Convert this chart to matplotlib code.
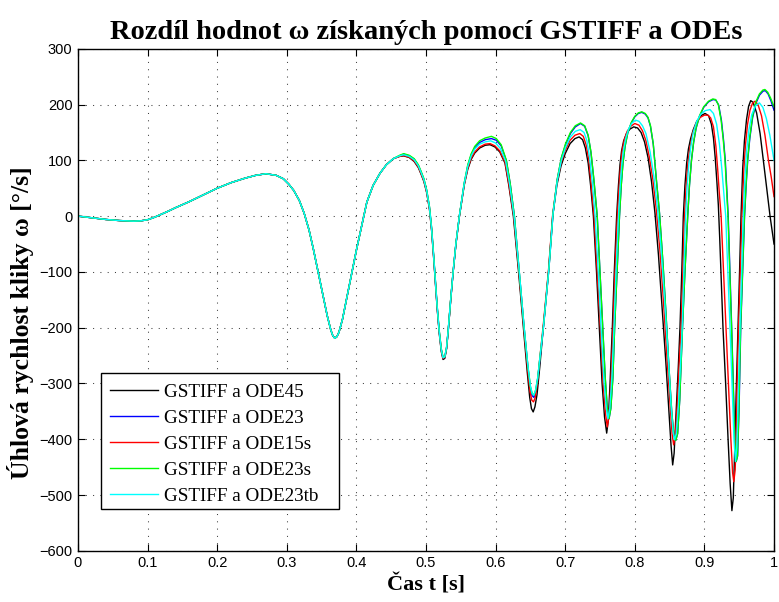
import matplotlib
matplotlib.use("Agg")
import matplotlib.pyplot as plt
from matplotlib.patches import Rectangle

# shared start of all five curves
t_common = [0.00, 0.02, 0.04, 0.06, 0.08, 0.09, 0.10, 0.11, 0.12, 0.13, 0.14, 0.16, 0.18,
            0.20, 0.22, 0.24, 0.255, 0.27, 0.285, 0.295, 0.303, 0.31, 0.318, 0.325, 0.332,
            0.338, 0.345, 0.3525, 0.358, 0.363, 0.366, 0.369, 0.372, 0.375, 0.38, 0.386,
            0.393, 0.40, 0.408, 0.415, 0.424, 0.434, 0.443, 0.453]
w_common = [0, -3, -6, -8, -9, -8.5, -6.5, -2, 3.5, 9, 15, 26, 38,
            50, 60, 68, 73, 76, 73, 67, 57, 46, 28, 5, -25,
            -58, -100, -145, -178, -203, -214, -219, -216, -208, -185, -148,
            -105, -61, -15, 25, 55, 77, 92, 103]

t_ode45 = [0.462, 0.468, 0.476, 0.483, 0.489, 0.493, 0.497, 0.501, 0.505, 0.508, 0.511,
           0.5135, 0.516, 0.519, 0.522, 0.5245, 0.527, 0.5295, 0.532, 0.5355, 0.539,
           0.543, 0.548, 0.555, 0.56, 0.565, 0.57, 0.577, 0.585, 0.592, 0.599, 0.606, 0.6135,
           0.619, 0.6255, 0.633, 0.640, 0.6455, 0.649, 0.6515, 0.654, 0.6565, 0.6595,
           0.6635, 0.6685, 0.676, 0.682, 0.688, 0.694, 0.700, 0.707, 0.714, 0.72, 0.725,
           0.729, 0.733, 0.7365, 0.7405, 0.745, 0.749, 0.753, 0.7565, 0.7596, 0.762,
           0.7644, 0.7677, 0.7705, 0.7739, 0.7765, 0.7787, 0.781, 0.784, 0.788, 0.793,
           0.7985, 0.804, 0.809, 0.814, 0.819, 0.824, 0.829, 0.834, 0.839, 0.8445, 0.849,
           0.852, 0.8544, 0.8565, 0.859, 0.8625, 0.8649, 0.8675, 0.8697, 0.872, 0.8745,
           0.877, 0.88, 0.884, 0.889, 0.895, 0.901, 0.906, 0.91, 0.913, 0.9155, 0.918,
           0.920, 0.922, 0.9267, 0.9305, 0.934, 0.937, 0.9395, 0.9415, 0.9435, 0.946,
           0.9483, 0.9505, 0.9526, 0.955, 0.9575, 0.9605, 0.9635, 0.9665, 0.970, 0.975,
           0.98, 0.9847, 0.9895, 0.9943, 1.0]
w_ode45 = [107, 108, 105, 98, 87, 75, 62, 42, 12, -25, -75,
           -120, -165, -210, -243, -257, -255, -238, -205, -150, -100,
           -50, 0, 56, 84, 102, 113, 122, 127, 128, 124, 115, 95,
           55, 0, -100, -200, -280, -325, -345, -351, -342, -320,
           -270, -200, -100, 0, 55, 90, 112, 130, 139, 142, 137,
           122, 95, 55, 0, -100, -200, -300, -360, -389, -365,
           -300, -200, -100, 0, 55, 92, 117, 135, 148, 156,
           160, 158, 150, 133, 105, 62, 5, -70, -160, -260, -350,
           -410, -446, -425, -360, -270, -200, -100, 0, 55, 95,
           120, 138, 155, 170, 180, 184, 180, 165, 140, 105, 60,
           20, -40, -200, -300, -400, -480, -528, -505, -420, -300,
           -200, -100, 0, 85, 135, 173, 197, 207, 204, 185,
           148, 100, 50, 0, -50]

t_ode15s = [0.462, 0.468, 0.476, 0.483, 0.489, 0.493, 0.497, 0.501, 0.505, 0.508, 0.511,
            0.5135, 0.516, 0.519, 0.522, 0.5245, 0.527, 0.5295, 0.532, 0.5355, 0.539,
            0.543, 0.548, 0.555, 0.56, 0.565, 0.57, 0.577, 0.585, 0.592, 0.599, 0.606, 0.6135,
            0.619, 0.626, 0.6335, 0.6405, 0.646, 0.6495, 0.652, 0.6545, 0.657, 0.66,
            0.6635, 0.6685, 0.676, 0.682, 0.688, 0.694, 0.700, 0.707, 0.714, 0.721, 0.726,
            0.730, 0.734, 0.7375, 0.7415, 0.746, 0.7505, 0.7545, 0.758, 0.7605, 0.763,
            0.7655, 0.7688, 0.7715, 0.7749, 0.7775, 0.7797, 0.782, 0.785, 0.789, 0.794,
            0.800, 0.806, 0.811, 0.816, 0.821, 0.826, 0.831, 0.836, 0.841, 0.846, 0.851,
            0.8535, 0.8558, 0.858, 0.861, 0.8635, 0.8665, 0.869, 0.871, 0.8735, 0.876,
            0.879, 0.883, 0.888, 0.894, 0.9, 0.905, 0.909, 0.913, 0.9165, 0.919, 0.9215,
            0.924, 0.9275, 0.931, 0.9345, 0.938, 0.9405, 0.9422, 0.9442, 0.9455, 0.947,
            0.949, 0.9515, 0.954, 0.9565, 0.959, 0.962, 0.9655, 0.969, 0.9727, 0.977,
            0.982, 0.987, 0.992, 0.996, 1.0]
w_ode15s = [107, 108.5, 105.5, 99, 88, 76, 63, 43, 13, -24, -74,
            -119, -164, -208, -241, -255, -253, -237, -204, -150, -100,
            -50, 0, 57, 86, 104, 115, 124, 129, 130, 126, 117, 97,
            58, 0, -100, -200, -275, -315, -330, -333, -325, -300,
            -255, -195, -97, 3, 60, 95, 118, 136, 145, 148, 143,
            128, 100, 55, 0, -100, -200, -300, -355, -378, -358,
            -300, -200, -100, 0, 55, 92, 118, 137, 152, 161,
            166, 163, 153, 135, 105, 65, 10, -60, -150, -250, -345,
            -390, -410, -395, -340, -270, -200, -100, -10, 50, 92,
            122, 148, 166, 177, 181, 181, 176, 160, 125, 85, 40,
            0, -100, -200, -300, -400, -460, -476, -455, -400, -300,
            -200, -100, 0, 80, 128, 165, 190, 202, 206, 200,
            180, 145, 100, 70, 35]

t_ode23tb = [0.462, 0.468, 0.476, 0.483, 0.489, 0.493, 0.497, 0.501, 0.505, 0.508, 0.511,
             0.5135, 0.516, 0.519, 0.522, 0.5245, 0.527, 0.5295, 0.532, 0.5355, 0.539,
             0.543, 0.548, 0.555, 0.56, 0.565, 0.57, 0.577, 0.585, 0.593, 0.6, 0.607, 0.6145,
             0.62, 0.6265, 0.634, 0.641, 0.6465, 0.65, 0.6525, 0.655, 0.6575, 0.6605,
             0.664, 0.669, 0.6765, 0.6825, 0.6885, 0.6945, 0.7005, 0.7075, 0.7145, 0.7215,
             0.727, 0.731, 0.735, 0.739, 0.743, 0.7475, 0.7515, 0.7555, 0.759, 0.7615,
             0.764, 0.767, 0.770, 0.773, 0.7765, 0.779, 0.781, 0.7835, 0.787, 0.791, 0.796,
             0.801, 0.806, 0.811, 0.816, 0.822, 0.8275, 0.8325, 0.8375, 0.8425, 0.8475,
             0.852, 0.8548, 0.857, 0.8595, 0.8625, 0.8655, 0.868, 0.8705, 0.8725, 0.875,
             0.8775, 0.8805, 0.884, 0.889, 0.895, 0.901, 0.908, 0.913, 0.9175, 0.9215,
             0.925, 0.928, 0.9306, 0.9337, 0.9368, 0.9397, 0.9425, 0.9445, 0.9465, 0.9485,
             0.9511, 0.9535, 0.9555, 0.958, 0.9605, 0.964, 0.968, 0.9735, 0.979, 0.984,
             0.989, 0.994, 1.0]
w_ode23tb = [108, 110, 107, 101, 90, 78, 65, 45, 15, -22, -72,
             -117, -162, -207, -240, -254, -252, -236, -203, -149, -99,
             -49, 1, 59, 89, 108, 120, 129, 133, 135, 131, 121, 98,
             58, 0, -100, -200, -270, -305, -318, -321, -312, -290,
             -250, -195, -95, 5, 63, 100, 123, 142, 152, 155,
             150, 136, 105, 60, 0, -100, -200, -295, -345, -363,
             -345, -290, -200, -100, 0, 55, 90, 117, 140, 156, 167,
             172, 170, 162, 148, 115, 70, 15, -55, -145, -245,
             -340, -385, -401, -390, -340, -270, -200, -100, -15, 50,
             92, 125, 150, 170, 183, 189, 191, 184, 165, 130,
             85, 40, 0, -100, -200, -300, -400, -440, -415, -330,
             -200, -100, -10, 65, 115, 155, 182, 198, 203, 195,
             175, 145, 100]

t_ode23s = [0.462, 0.468, 0.476, 0.483, 0.489, 0.493, 0.497, 0.501, 0.505, 0.508, 0.511,
            0.5135, 0.516, 0.519, 0.522, 0.5245, 0.527, 0.5295, 0.532, 0.5355, 0.539,
            0.543, 0.548, 0.555, 0.56, 0.565, 0.57, 0.577, 0.585, 0.594, 0.601, 0.608, 0.6155,
            0.621, 0.627, 0.634, 0.641, 0.6465, 0.65, 0.6525, 0.655, 0.6575, 0.6605,
            0.664, 0.669, 0.6765, 0.6825, 0.6885, 0.6945, 0.7005, 0.7075, 0.7145, 0.722,
            0.728, 0.733, 0.737, 0.741, 0.746, 0.75, 0.754, 0.7575, 0.7605, 0.763,
            0.7655, 0.7685, 0.771, 0.7745, 0.778, 0.7805, 0.783, 0.786, 0.79, 0.795, 0.80,
            0.805, 0.81, 0.815, 0.819, 0.8225, 0.8265, 0.831, 0.8355, 0.8405, 0.845, 0.849,
            0.853, 0.856, 0.8588, 0.8615, 0.8645, 0.8685, 0.872, 0.876, 0.8785, 0.8814,
            0.8845, 0.888, 0.893, 0.899, 0.906, 0.912, 0.916, 0.92, 0.924, 0.927, 0.9296,
            0.9339, 0.9365, 0.939, 0.9413, 0.9435, 0.9455, 0.9475, 0.9495, 0.952, 0.9548,
            0.9575, 0.96, 0.962, 0.965, 0.969, 0.974, 0.979, 0.984, 0.987, 0.991, 0.995,
            1.0]
w_ode23s = [109, 112, 109, 103, 92, 80, 67, 47, 17, -20, -70,
            -115, -160, -205, -238, -253, -252, -236, -203, -149, -99,
            -49, 1, 60, 92, 112, 125, 135, 140, 143, 139, 128, 100,
            58, 0, -100, -200, -270, -305, -318, -321, -312, -290,
            -250, -195, -95, 5, 66, 105, 130, 150, 162, 167,
            162, 145, 115, 68, 0, -100, -200, -290, -345, -363,
            -345, -290, -200, -100, 0, 55, 95, 125, 150, 168, 179,
            185, 187, 184, 177, 162, 130, 65, 5, -85, -180, -270,
            -350, -392, -402, -390, -330, -200, -100, 0, 55, 100,
            133, 158, 180, 196, 206, 210, 209, 200, 172, 138, 100,
            0, -100, -200, -300, -400, -440, -430, -350, -200, -100,
            0, 60, 100, 140, 178, 205, 219, 226, 227, 222, 212,
            196]

t_ode23 = [0.462, 0.468, 0.476, 0.483, 0.489, 0.493, 0.497, 0.501, 0.505, 0.508, 0.511,
           0.5135, 0.516, 0.519, 0.522, 0.5245, 0.527, 0.5295, 0.532, 0.5355, 0.539,
           0.543, 0.548, 0.555, 0.56, 0.565, 0.57, 0.577, 0.585, 0.594, 0.601, 0.608, 0.6155,
           0.621, 0.627, 0.634, 0.641, 0.6465, 0.65, 0.6525, 0.655, 0.6575, 0.6605,
           0.664, 0.669, 0.6765, 0.6825, 0.6885, 0.6945, 0.7005, 0.7075, 0.7145, 0.722,
           0.728, 0.733, 0.737, 0.741, 0.746, 0.75, 0.754, 0.7575, 0.7605, 0.763,
           0.7655, 0.7685, 0.771, 0.7745, 0.778, 0.7805, 0.783, 0.786, 0.79, 0.795, 0.80,
           0.805, 0.81, 0.815, 0.819, 0.8225, 0.8265, 0.831, 0.8355, 0.8405, 0.845, 0.849,
           0.853, 0.856, 0.8588, 0.8615, 0.8645, 0.8685, 0.872, 0.876, 0.8785, 0.8814,
           0.8845, 0.888, 0.893, 0.899, 0.906, 0.9125, 0.9165, 0.9205, 0.9245, 0.9275, 0.93,
           0.9342, 0.9367, 0.9392, 0.9415, 0.9437, 0.9457, 0.9477, 0.9497, 0.9522, 0.955,
           0.9577, 0.9602, 0.9622, 0.9652, 0.9692, 0.9742, 0.9792, 0.9842, 0.9875, 0.9915,
           0.9955, 1.0]
w_ode23 = [108, 111, 108, 102, 91, 79, 66, 46, 16, -21, -71,
           -116, -161, -206, -239, -254, -253, -237, -204, -150, -100,
           -50, 0, 59, 90, 110, 122, 132, 137, 139, 136, 126, 99,
           58, 0, -100, -200, -272, -308, -322, -325, -315, -292,
           -252, -196, -96, 4, 65, 104, 128, 148, 160, 166,
           161, 144, 114, 67, 0, -100, -200, -290, -345, -363,
           -345, -290, -200, -100, 0, 55, 95, 125, 150, 167, 178,
           184, 186, 183, 176, 161, 129, 65, 5, -85, -180, -270,
           -350, -392, -402, -390, -330, -200, -100, 0, 55, 100,
           132, 157, 179, 195, 205, 209, 208, 199, 171, 136, 100,
           0, -100, -200, -300, -400, -440, -430, -350, -200, -100,
           0, 60, 100, 139, 176, 203, 217, 224, 225, 219, 207,
           190]

labels = ["GSTIFF a ODE45", "GSTIFF a ODE23", "GSTIFF a ODE15s",
          "GSTIFF a ODE23s", "GSTIFF a ODE23tb"]
colors = ["black", (0, 0, 1), (1, 0, 0), (0, 1, 0), (0, 1, 1)]
series_t = [t_ode45, t_ode23, t_ode15s, t_ode23s, t_ode23tb]
series_w = [w_ode45, w_ode23, w_ode15s, w_ode23s, w_ode23tb]

xticks = [0, 0.1, 0.2, 0.3, 0.4, 0.5, 0.6, 0.7, 0.8, 0.9, 1]
xtick_labels = ["0", "0.1", "0.2", "0.3", "0.4", "0.5", "0.6", "0.7", "0.8", "0.9", "1"]
yticks = [-600, -500, -400, -300, -200, -100, 0, 100, 200, 300]

serif = "Liberation Serif"
sans = "Liberation Sans"

fig = plt.figure(figsize=(7.79, 6.02), dpi=100)
ax = fig.add_axes([0.1001, 0.085, 0.8935, 0.834])

for tt, ww, c, lab in zip(series_t, series_w, colors, labels):
    ax.plot(t_common + tt, w_common + ww, color=c, lw=1.0, label=lab)

ax.set_xlim(0, 1)
ax.set_ylim(-600, 300)
ax.set_xticks(xticks)
ax.set_xticklabels(xtick_labels)
ax.set_yticks(yticks)
for lab in ax.get_xticklabels() + ax.get_yticklabels():
    lab.set_fontfamily(sans)
    lab.set_fontsize(10.5)

ax.tick_params(direction="in", top=True, right=True, length=5, width=0.8, pad=4)
for sp in ax.spines.values():
    sp.set_linewidth(1.0)
ax.grid(True, color="0.25", linestyle=(0, (1, 6)), linewidth=0.75)

ax.set_title("Rozdíl hodnot ω získaných pomocí GSTIFF a ODEs",
             fontfamily=serif, fontweight="bold", fontsize=20.5, pad=7)
ax.set_xlabel("Čas t [s]", fontfamily=serif, fontweight="bold", fontsize=16, labelpad=3)
ax.set_ylabel("Úhlová rychlost kliky ω [°/s]", fontfamily=serif, fontweight="bold",
              fontsize=18.5)
ax.yaxis.set_label_coords(-0.063, 0.455)

# legend box (MATLAB style, wider on the right than matplotlib would make it)
ax.add_patch(Rectangle((0.033, 0.0833), 0.342, 0.271, transform=ax.transAxes,
                       facecolor="white", edgecolor="black", linewidth=1.0, zorder=4.5))
leg = ax.legend(loc="lower left", bbox_to_anchor=(0.0349, 0.076), borderaxespad=0,
                prop={"family": serif, "size": 13.8}, frameon=False,
                handlelength=2.5, handletextpad=0.3, labelspacing=0.45, borderpad=0.4)

fig.savefig("out.png", dpi=100)
